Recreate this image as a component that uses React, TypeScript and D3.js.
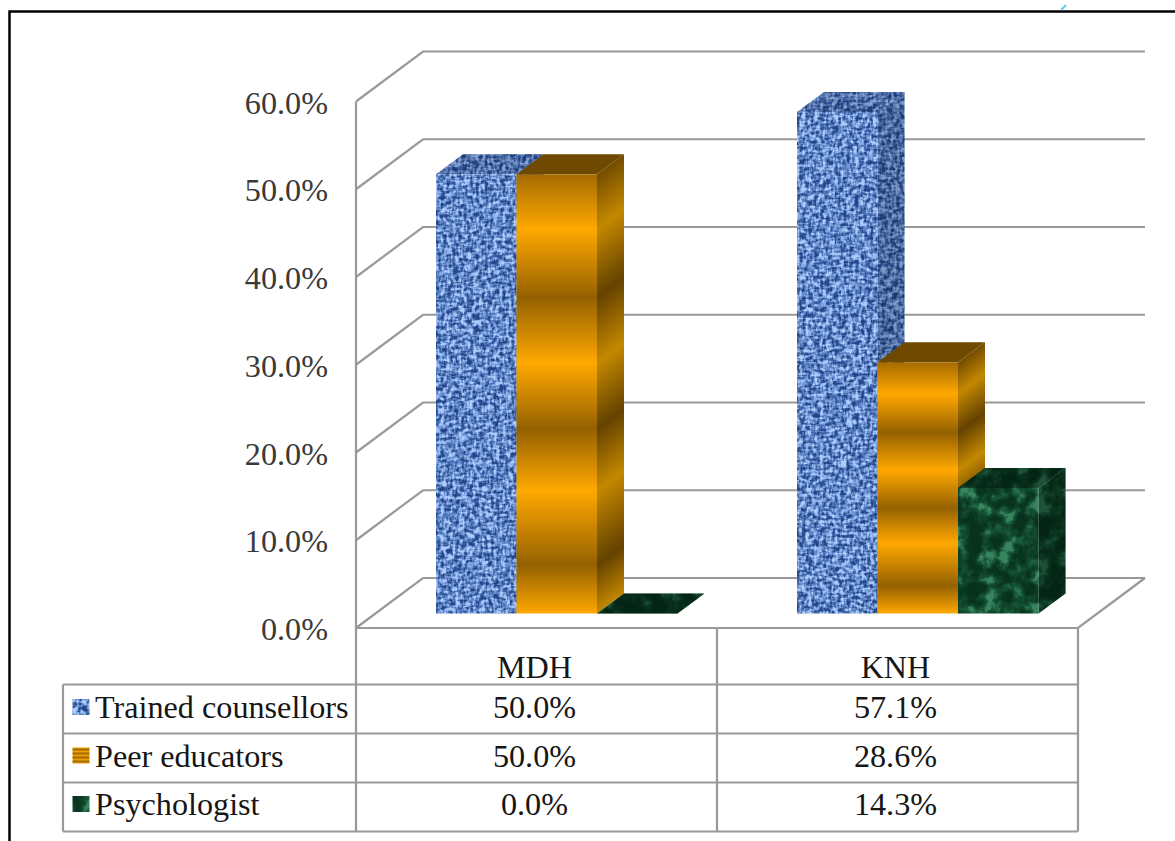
import React from "react";
import * as d3 from "d3";

const categories = ["MDH", "KNH"];
const seriesNames = ["Trained counsellors", "Peer educators", "Psychologist"];
const trainedCounsellors = [50.0, 57.1];
const peerEducators = [50.0, 28.6];
const psychologist = [0.0, 14.3];
const axisTicks = [0, 10, 20, 30, 40, 50, 60];

const seriesValues = [trainedCounsellors, peerEducators, psychologist];
const fmt = (v: number) => `${v.toFixed(1)}%`;

const GRID = "#999999";
const FONT = "'Liberation Serif', 'Times New Roman', serif";

// Scene geometry of the 3-D plot box
const frontX = 356;
const rightX = 1078;
const wallDx = 67;
const wallDy = 50;
const barDx = 27;
const barDy = 20;
const sideSkew = (Math.atan2(barDy, barDx) * 180) / Math.PI;

const yFront = d3.scaleLinear().domain([0, 60]).range([628, 101.5]);
const yBar = d3.scaleLinear().domain([0, 60]).range([613.5, 86.5]);
const xGroup = d3.scaleBand<string>().domain(categories).range([frontX, rightX]);
const xBar = d3.scaleBand<string>().domain(seriesNames).range([80, 321.5]);

const rowEdges = [684.5, 733.5, 782.5, 831.5];
const legendTop = [699, 747.5, 796];
const rowBaselines = [717.5, 766.5, 815];

const pts = (p: [number, number][]) => p.map((q) => q.join(",")).join(" ");

// Banded metallic ramp used for the peer-educator bars
const bandStops: [number, number][] = [
  [0, 0.25], [0.125, 1], [0.28, 0.12], [0.43, 1], [0.58, 0.12], [0.72, 1], [0.89, 0.12], [1, 1],
];
const ramp = d3.scaleLinear<string>().domain([0, 1]).range(["#855700", "#ffa800"]);
const rampSide = d3.scaleLinear<string>().domain([0, 1]).range(["#573800", "#c48800"]);

function Defs() {
  return (
    <defs>
      <linearGradient id="orangeFront" x1="0" y1="0" x2="0" y2="1">
        {bandStops.map(([o, t]) => (
          <stop key={o} offset={o} stopColor={ramp(t)} />
        ))}
      </linearGradient>
      <linearGradient id="orangeSwatch" x1="0" y1="0" x2="0" y2="1" spreadMethod="repeat" gradientTransform="scale(1 0.25)">
        <stop offset="0" stopColor="#f0a000" />
        <stop offset="0.5" stopColor="#a06c00" />
        <stop offset="1" stopColor="#f0a000" />
      </linearGradient>

      {/* Woven cloth: two stretched noise fields crossed at right angles */}
      <filter id="weave" x="0" y="0" width="100%" height="100%" colorInterpolationFilters="sRGB">
        <feTurbulence type="fractalNoise" baseFrequency="0.34 0.15" numOctaves="2" seed="4" result="a" />
        <feTurbulence type="fractalNoise" baseFrequency="0.15 0.34" numOctaves="2" seed="9" result="b" />
        <feComposite in="a" in2="b" operator="arithmetic" k1="0" k2="0.5" k3="0.5" k4="0" />
        <feColorMatrix type="matrix" values="3.6 0 0 0 -1.3  3.6 0 0 0 -1.3  3.6 0 0 0 -1.3  0 0 0 0 1" />
        <feComponentTransfer>
          <feFuncR type="table" tableValues="0.14 0.25 0.38 0.53 0.68" />
          <feFuncG type="table" tableValues="0.27 0.39 0.53 0.67 0.80" />
          <feFuncB type="table" tableValues="0.53 0.66 0.78 0.90 0.99" />
        </feComponentTransfer>
        <feGaussianBlur stdDeviation="0.65" />
        <feComposite in2="SourceAlpha" operator="in" />
      </filter>

      {/* Green marble */}
      <filter id="marble" x="0" y="0" width="100%" height="100%" colorInterpolationFilters="sRGB">
        <feTurbulence type="fractalNoise" baseFrequency="0.06" numOctaves="6" seed="12" />
        <feColorMatrix type="matrix" values="3 0 0 0 -1.1  3 0 0 0 -1.1  3 0 0 0 -1.1  0 0 0 0 1" />
        <feComponentTransfer>
          <feFuncR type="table" tableValues="0.03 0.05 0.07 0.11 0.22" />
          <feFuncG type="table" tableValues="0.20 0.24 0.29 0.37 0.52" />
          <feFuncB type="table" tableValues="0.12 0.14 0.18 0.25 0.37" />
        </feComponentTransfer>
        <feGaussianBlur stdDeviation="0.6" />
        <feComposite in2="SourceAlpha" operator="in" />
      </filter>
    </defs>
  );
}

function Bar({ x, w, value, series, id }: { x: number; w: number; value: number; series: number; id: string }) {
  const top = yBar(value);
  const base = yBar(0);
  const frontEdge = x + w;
  const sideFace: [number, number][] = [
    [frontEdge, top], [frontEdge + barDx, top - barDy], [frontEdge + barDx, base - barDy], [frontEdge, base],
  ];
  const topFace: [number, number][] = [
    [x, top], [x + barDx, top - barDy], [frontEdge + barDx, top - barDy], [frontEdge, top],
  ];
  if (series === 1) {
    return (
      <g>
        {/* Side bands follow the receding edge of the bar */}
        <linearGradient
          id={id}
          gradientUnits="userSpaceOnUse"
          x1={frontEdge}
          x2={frontEdge}
          y1={top}
          y2={base}
          gradientTransform={`translate(${frontEdge} 0) skewY(${-sideSkew}) translate(${-frontEdge} 0)`}
        >
          {bandStops.map(([o, t]) => (
            <stop key={o} offset={o} stopColor={rampSide(t)} />
          ))}
        </linearGradient>
        <polygon points={pts(sideFace)} fill={`url(#${id})`} />
        <polygon points={pts(topFace)} fill="#6f4900" />
        {value > 0 && <rect x={x} y={top} width={w} height={base - top} fill="url(#orangeFront)" />}
      </g>
    );
  }
  const filter = series === 0 ? "url(#weave)" : "url(#marble)";
  const shade = series === 0 ? "#06183a" : "#00140a";
  return (
    <g>
      {value > 0 && (
        <>
          <polygon points={pts(sideFace)} fill="#000" filter={filter} />
          <polygon points={pts(sideFace)} fill={shade} opacity={series === 0 ? 0.28 : 0.45} />
        </>
      )}
      <polygon points={pts(topFace)} fill="#000" filter={filter} />
      <polygon points={pts(topFace)} fill={shade} opacity={series === 0 ? 0.22 : 0.45} />
      {value > 0 && <rect x={x} y={top} width={w} height={base - top} fill="#000" filter={filter} />}
    </g>
  );
}

export default function App() {
  const w = xBar.bandwidth();
  const line = { stroke: GRID, strokeWidth: 2.2, fill: "none" };
  const baseY = yFront(0);
  const axisText = { fontFamily: FONT, fontSize: 32.2, fill: "#3a3a3a" };
  const tableText = { fontFamily: FONT, fontSize: 32.2, fill: "#161616" };

  return (
    <svg
      width={1175}
      height={841}
      viewBox="0 0 1175 841"
      style={{ position: "absolute", left: 0, top: 0, display: "block", background: "#fff" }}
    >
      <Defs />

      {/* Walls and floor */}
      {axisTicks.map((t) => (
        <g key={t}>
          <polyline
            {...line}
            points={pts([
              [frontX, yFront(t)],
              [frontX + wallDx, yFront(t) - wallDy],
              [rightX + wallDx, yFront(t) - wallDy],
            ])}
          />
          <text {...axisText} x={328} y={yFront(t) + 12} textAnchor="end">
            {fmt(t)}
          </text>
        </g>
      ))}
      <line {...line} x1={frontX} x2={frontX} y1={yFront(60)} y2={rowEdges[3]} />
      <polyline
        {...line}
        points={pts([
          [rightX + wallDx, baseY - wallDy],
          [rightX, baseY],
          [frontX, baseY],
        ])}
      />

      {/* Bars */}
      {categories.map((c, ci) =>
        seriesNames.map((s, si) => (
          <Bar
            key={c + s}
            id={`side-${ci}-${si}`}
            x={(xGroup(c) as number) + (xBar(s) as number)}
            w={w}
            value={seriesValues[si][ci]}
            series={si}
          />
        )),
      )}

      {/* Data table */}
      {rowEdges.map((y) => (
        <line key={y} {...line} x1={63} x2={rightX} y1={y} y2={y} />
      ))}
      <line {...line} x1={63} x2={63} y1={rowEdges[0]} y2={rowEdges[3]} />
      {categories.map((c) => (
        <line
          key={c}
          {...line}
          x1={(xGroup(c) as number) + xGroup.bandwidth()}
          x2={(xGroup(c) as number) + xGroup.bandwidth()}
          y1={baseY}
          y2={rowEdges[3]}
        />
      ))}
      {categories.map((c) => (
        <text
          key={c}
          {...tableText}
          x={(xGroup(c) as number) + xGroup.bandwidth() / 2 - 2}
          y={678}
          textAnchor="middle"
        >
          {c}
        </text>
      ))}
      {seriesNames.map((s, si) => (
        <g key={s}>
          {si === 1 ? (
            <rect x={72.5} y={legendTop[si]} width={17} height={16} fill="url(#orangeSwatch)" />
          ) : (
            <rect
              x={72.5}
              y={legendTop[si]}
              width={17}
              height={16}
              fill="#000"
              filter={si === 0 ? "url(#weave)" : "url(#marble)"}
            />
          )}
          <text {...tableText} x={95} y={rowBaselines[si]}>
            {s}
          </text>
          {categories.map((c, ci) => (
            <text
              key={c}
              {...tableText}
              x={(xGroup(c) as number) + xGroup.bandwidth() / 2 - 2}
              y={rowBaselines[si]}
              textAnchor="middle"
            >
              {fmt(seriesValues[si][ci])}
            </text>
          ))}
        </g>
      ))}

      {/* Outer frame, open on the right and bottom */}
      <polyline points={pts([[9.5, 841], [9.5, 11.5], [1175, 11.5]])} fill="none" stroke="#000" strokeWidth={2.5} />
      <line x1={1061} y1={10} x2={1066} y2={5} stroke="#62c8f0" strokeWidth={2} />
    </svg>
  );
}
